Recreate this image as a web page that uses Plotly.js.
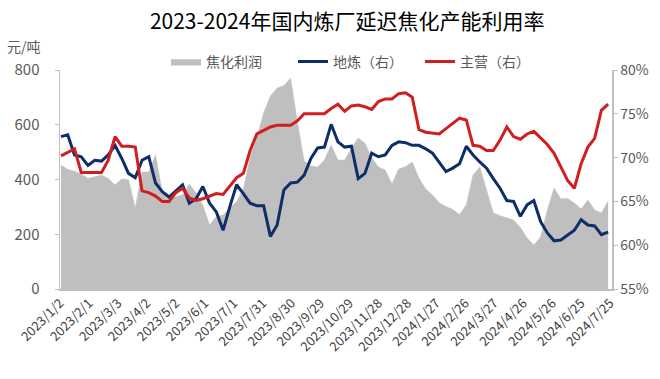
<!DOCTYPE html>
<html>
<head>
<meta charset="utf-8">
<script src="https://cdn.plot.ly/plotly-3.0.1.min.js"></script>
<style>html,body{margin:0;padding:0;background:#fff;}#chart{width:660px;height:379px;}</style>
</head>
<body>
<div id="chart"></div>
<script>
const dates = [
"2023-01-03","2023-01-10","2023-01-17","2023-01-24","2023-01-31","2023-02-07","2023-02-14","2023-02-21","2023-02-28",
"2023-03-07","2023-03-14","2023-03-21","2023-03-28","2023-04-04","2023-04-11","2023-04-18","2023-04-25",
"2023-05-02","2023-05-09","2023-05-16","2023-05-23","2023-05-30","2023-06-06","2023-06-13","2023-06-20","2023-06-27",
"2023-07-04","2023-07-11","2023-07-18","2023-07-25","2023-08-01","2023-08-08","2023-08-15","2023-08-22","2023-08-29",
"2023-09-05","2023-09-12","2023-09-19","2023-09-26","2023-10-03","2023-10-10","2023-10-17","2023-10-24","2023-10-31",
"2023-11-07","2023-11-14","2023-11-21","2023-11-28","2023-12-05","2023-12-12","2023-12-19","2023-12-26",
"2024-01-02","2024-01-09","2024-01-16","2024-01-23","2024-01-30","2024-02-06","2024-02-13","2024-02-20","2024-02-27",
"2024-03-05","2024-03-12","2024-03-19","2024-03-26","2024-04-02","2024-04-09","2024-04-16","2024-04-23","2024-04-30",
"2024-05-07","2024-05-14","2024-05-21","2024-05-28","2024-06-04","2024-06-11","2024-06-18","2024-06-25",
"2024-07-02","2024-07-09","2024-07-16","2024-07-23"
];
// 焦化利润 (元/吨)
const profit = [
453,437,430,420,404,409,416,404,380,402,400,296,427,427,490,354,332,337,343,384,351,307,
234,264,270,296,319,365,480,553,643,705,734,743,770,610,468,449,446,471,526,471,471,515,
552,532,479,446,435,384,438,447,464,405,365,343,314,301,290,272,307,416,446,362,278,268,
259,252,226,186,161,190,289,369,329,331,314,292,325,289,278,321
];
// 地炼 (%)
const diLian = [
72.4,72.6,70.3,70.1,69.1,69.7,69.6,70.3,71.4,69.9,68.2,67.7,69.7,70.1,67.1,66.1,65.5,66.2,
66.9,64.8,65.3,66.7,64.8,63.8,61.7,64.4,66.9,65.9,64.8,64.5,64.5,61.0,62.3,66.3,67.1,67.2,
68.0,69.9,71.1,71.2,73.8,71.8,71.2,71.3,67.6,68.2,70.5,70.1,70.3,71.4,71.8,71.7,71.4,71.4,
71.0,70.5,69.5,68.4,68.8,69.3,71.3,70.3,69.5,68.8,67.6,66.5,65.1,65.0,63.3,64.6,65.1,62.7,
61.4,60.5,60.6,61.2,61.7,62.9,62.3,62.2,61.2,61.5
];
// 主营 (%)
const zhuYing = [
70.2,70.6,71.0,68.3,68.3,68.3,68.3,69.7,72.4,71.3,71.3,71.2,66.2,66.0,65.6,65.0,65.0,66.0,
66.5,65.4,65.1,65.3,65.6,65.9,65.8,66.7,67.7,68.2,70.8,72.7,73.1,73.5,73.7,73.7,73.7,74.2,
75.0,75.0,75.0,75.0,75.6,76.1,75.3,75.9,76.0,75.8,75.5,76.4,76.7,76.7,77.3,77.4,76.9,73.2,
72.9,72.8,72.7,73.3,73.9,74.5,74.3,71.4,71.3,70.8,70.8,72.0,73.5,72.4,72.1,72.7,73.0,72.3,
71.5,70.5,69.0,67.4,66.5,69.3,71.2,72.2,75.4,76.1
];
const leftTicks = [0,200,400,600,800];
const rightTicks = [55,60,65,70,75,80];
const rightTickText = ['55%','60%','65%','70%','75%','80%'];

const FONT = '"Noto Sans CJK SC", "Noto Sans", sans-serif';
const traces = [
  {x: dates, y: profit, name: '焦化利润', type: 'scatter', mode: 'lines',
   fill: 'tozeroy', fillcolor: '#BFBFBF', line: {color: '#BFBFBF', width: 0.5}, yaxis: 'y'},
  {x: dates, y: diLian, name: '地炼（右）', type: 'scatter', mode: 'lines',
   line: {color: '#0E2D69', width: 3}, yaxis: 'y2'},
  {x: dates, y: zhuYing, name: '主营（右）', type: 'scatter', mode: 'lines',
   line: {color: '#D11F1F', width: 3}, yaxis: 'y2'}
];
const layout = {
  width: 660, height: 379,
  margin: {l: 60, r: 48, t: 70, b: 90},
  paper_bgcolor: '#ffffff', plot_bgcolor: '#ffffff',
  font: {family: FONT, color: '#595959', size: 13},
  title: {text: '2023-2024年国内炼厂延迟焦化产能利用率', font: {family: FONT, size: 21, color: '#000000'},
          x: 0.526, xanchor: 'center', xref: 'container', y: 0.942, yanchor: 'middle', yref: 'container'},
  showlegend: true,
  legend: {orientation: 'h', x: 0.192, xanchor: 'left', y: 1.037, yanchor: 'middle',
           entrywidth: 82, entrywidthmode: 'pixels',
           font: {family: FONT, size: 14, color: '#595959'}, bgcolor: 'rgba(0,0,0,0)', traceorder: 'normal'},
  xaxis: {type: 'date', range: ['2023-01-02', '2024-07-27'], tick0: '2023-01-02', dtick: 30*86400000,
          tickformat: '%Y/%-m/%-d', tickangle: -45, showgrid: false, zeroline: false,
          showline: true, linecolor: '#BFBFBF', linewidth: 1.5, ticks: '',
          tickfont: {family: FONT, size: 13, color: '#404040'}},
  yaxis: {range: [0, 800], tickvals: leftTicks, showgrid: false, zeroline: false, showline: true,
          linecolor: '#BFBFBF', linewidth: 1.5, ticks: 'outside', ticklen: 4, tickcolor: '#BFBFBF',
          ticklabelstandoff: 12,
          tickfont: {family: FONT, size: 15, color: '#595959'}},
  yaxis2: {range: [55, 80], tickvals: rightTicks, ticktext: rightTickText, overlaying: 'y', side: 'right',
           showgrid: false, zeroline: false, showline: true, linecolor: '#BFBFBF', linewidth: 1.5,
           ticks: 'outside', ticklen: 4, tickcolor: '#BFBFBF',
           tickfont: {family: FONT, size: 14, color: '#595959'}},
  annotations: [{text: '元/吨', xref: 'paper', yref: 'paper', x: -0.1, y: 1.11, xanchor: 'left', yanchor: 'middle',
                 showarrow: false, font: {family: FONT, size: 14, color: '#595959'}}]
};
Plotly.newPlot('chart', traces, layout, {displayModeBar: false, staticPlot: true});
</script>
</body>
</html>
